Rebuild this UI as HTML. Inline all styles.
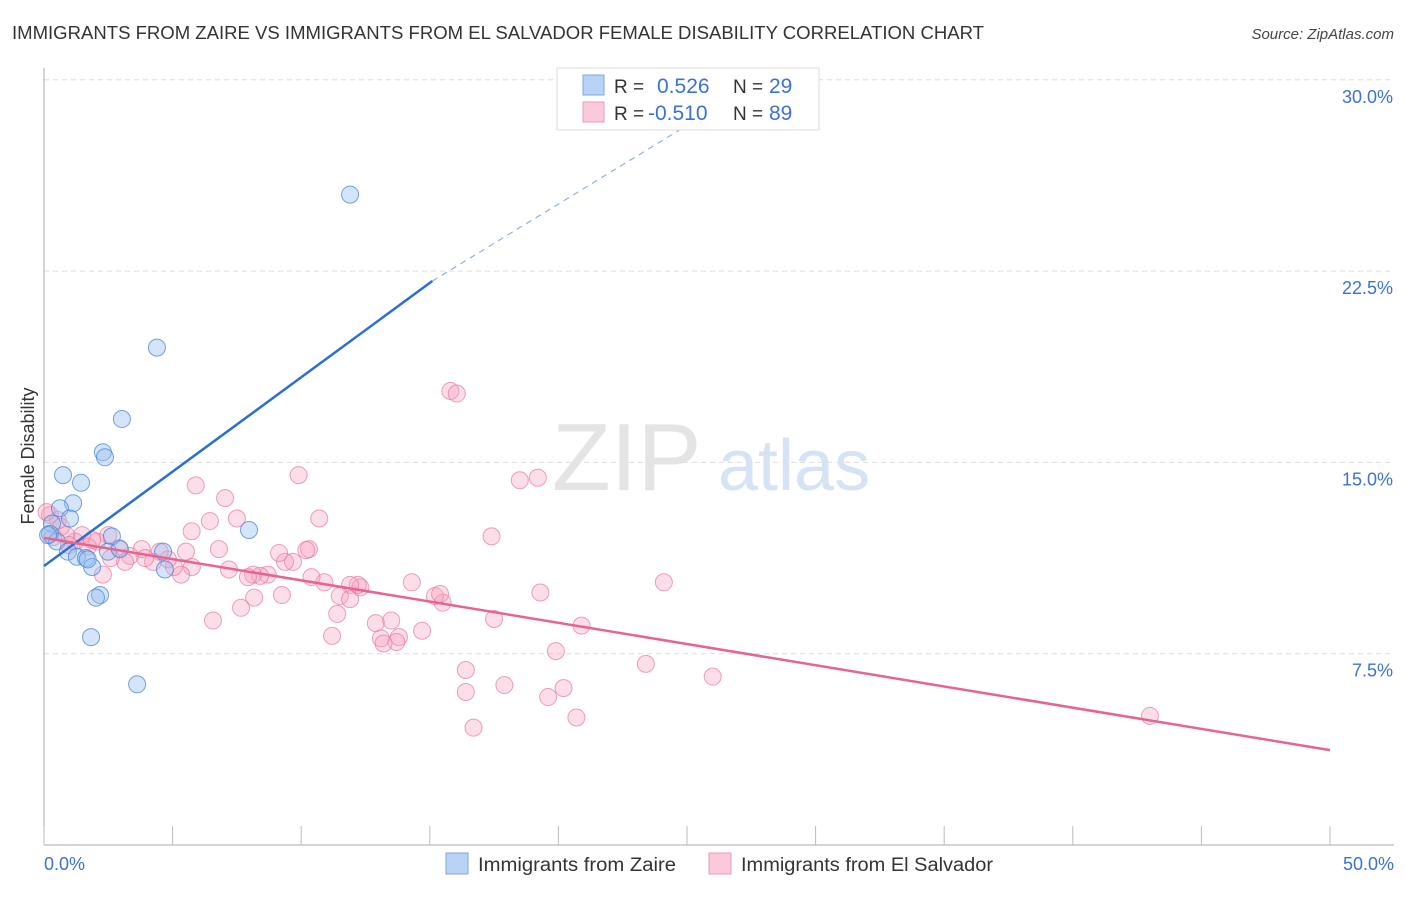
<!DOCTYPE html>
<html><head><meta charset="utf-8"><style>
body{margin:0;background:#fff;font-family:"Liberation Sans",sans-serif;}
svg text{font-family:"Liberation Sans",sans-serif;}
</style></head><body>
<svg id="chart" width="1406" height="892" viewBox="0 0 1406 892" xmlns="http://www.w3.org/2000/svg">
<text x="12" y="39" font-size="18" fill="#333" textLength="972" lengthAdjust="spacingAndGlyphs">IMMIGRANTS FROM ZAIRE VS IMMIGRANTS FROM EL SALVADOR FEMALE DISABILITY CORRELATION CHART</text>
<text x="1394" y="39" font-size="15" font-style="italic" fill="#444" text-anchor="end">Source: ZipAtlas.com</text>
<g id="grid"></g>
<text x="552" y="490" font-size="96" font-family="Liberation Serif" fill="#e4e4e4">ZIP</text>
<text x="718" y="490" font-size="72" fill="#d6e3f5">atlas</text>
<g id="axes"></g>
<g id="pts"></g>
<g id="lines"></g>
<text transform="translate(34,456) rotate(-90)" font-size="18" fill="#333" text-anchor="middle">Female Disability</text>
<g>
<rect x="557" y="68" width="262" height="62" fill="#fff" stroke="#ddd"/>
<rect x="583" y="75" width="21" height="20" fill="#b8d3f5" stroke="#7aa8e6"/>
<rect x="583" y="102" width="21" height="20" fill="#fbc9d8" stroke="#ee9ab5"/>
<text x="614" y="93" font-size="19" fill="#333">R = </text><text x="657" y="93" font-size="21" fill="#3b72d6">0.526</text>
<text x="733" y="93" font-size="19" fill="#333">N = </text><text x="769" y="93" font-size="21" fill="#3b72d6">29</text>
<text x="614" y="120" font-size="19" fill="#333">R = </text><text x="648" y="120" font-size="21" fill="#3b72d6">-0.510</text>
<text x="733" y="120" font-size="19" fill="#333">N = </text><text x="769" y="120" font-size="21" fill="#3b72d6">89</text>
</g>
<g>
<rect x="446" y="853" width="22" height="21" fill="#b8d3f5" stroke="#7aa8e6"/>
<text x="478" y="871" font-size="19" fill="#333" textLength="198" lengthAdjust="spacingAndGlyphs">Immigrants from Zaire</text></g>
<g>
<rect x="709" y="853" width="22" height="21" fill="#fbc9d8" stroke="#ee9ab5"/>
<text x="741" y="871" font-size="19" fill="#333" textLength="252" lengthAdjust="spacingAndGlyphs">Immigrants from El Salvador</text></g>
</svg>
<script>
const zaireX=[11.9,4.39,3.03,2.29,2.37,0.74,1.44,1.13,0.62,1.01,0.31,7.97,2.64,0.23,0.5,0.93,1.28,1.63,2.49,2.95,4.63,4.7,1.87,2.18,2.02,1.83,3.62,0.16,1.7];
const zaireY=[25.5,19.5,16.7,15.4,15.2,14.5,14.2,13.4,13.2,12.8,12.6,12.35,12.1,12.2,11.9,11.5,11.3,11.25,11.5,11.6,11.5,10.8,10.9,9.8,9.7,8.15,6.3,12.15,11.2];
const salvX=[43.0,26.0,24.1,23.4,20.9,19.9,20.2,19.6,20.7,19.3,18.5,19.2,17.4,17.5,17.9,16.4,16.4,16.7,15.8,16.05,15.5,15.2,15.4,14.3,14.7,13.8,13.5,12.9,13.1,13.7,13.2,12.3,12.2,11.9,11.5,11.9,11.4,11.2,10.9,10.4,10.7,9.9,10.3,10.2,9.68,9.37,9.14,9.25,8.7,8.4,8.13,7.93,7.66,8.17,7.19,7.5,7.04,6.8,6.45,6.57,5.9,5.74,5.75,5.52,5.33,5.05,4.82,4.5,4.24,3.8,3.93,3.34,3.15,2.92,2.6,2.29,2.06,2.5,1.48,1.71,1.2,0.86,0.54,0.23,0.1,0.66,0.97,0.35,1.87];
const salvY=[5.06,6.6,10.3,7.1,8.6,7.6,6.15,5.8,5.0,9.9,14.3,14.4,12.1,8.86,6.27,6.86,6.0,4.6,17.8,17.7,9.5,9.76,9.84,10.3,8.4,8.15,8.8,8.7,8.1,7.96,7.9,10.1,10.2,10.2,9.76,9.64,9.06,8.2,10.3,10.5,12.8,14.5,11.6,11.56,11.1,11.1,11.45,9.8,10.6,10.55,10.6,10.5,9.3,9.7,10.8,12.8,13.6,11.6,12.7,8.8,14.1,12.3,10.9,11.5,10.6,10.9,11.2,11.5,11.1,11.6,11.25,11.33,11.1,11.64,11.25,10.6,11.9,12.15,12.15,11.7,11.9,12.15,12.74,12.94,13.05,12.47,11.76,12.07,11.96];
const zaireLine=[0,10.94,15.1,22.11,30,27.9];
const salvLine=[0,12.04,50,3.72];
const yTicks=[7.5,15,22.5,30];
const yTickLabels=["7.5%","15.0%","22.5%","30.0%"];
const xTicks=[0,5,10,15,20,25,30,35,40,45,50];
const NS="http://www.w3.org/2000/svg";
const sx=v=>44+v/50*1286;
const sy=v=>845-v/7.5*191.3;
function mk(tag,attrs,parent){const e=document.createElementNS(NS,tag);for(const k in attrs)e.setAttribute(k,attrs[k]);document.getElementById(parent).appendChild(e);return e;}
yTicks.forEach((t,i)=>{
 const g=mk('line',{x1:44,x2:1394,y1:sy(t),y2:sy(t),stroke:'#ddd','stroke-dasharray':'5,4'},'grid');
 
 
 const l=mk('text',{x:1393,y:sy(t)+23,'font-size':18,fill:'#3b72d6','text-anchor':'end'},'grid');
 l.textContent=yTickLabels[i];
 
 
});
const ax=mk('line',{x1:44,x2:44,y1:68,y2:845,stroke:'#aaa'},'axes');


const bx=mk('line',{x1:44,x2:1394,y1:845,y2:845,stroke:'#aaa'},'axes');


xTicks.forEach(t=>{
 const tk=mk('line',{x1:sx(t),x2:sx(t),y1:826,y2:845,stroke:'#bbb'},'axes');
 
 
});
const x0=mk('text',{x:44,y:870,'font-size':18,fill:'#3b72d6'},'axes');x0.textContent='0.0%';


const x1=mk('text',{x:1394,y:870,'font-size':18,fill:'#3b72d6','text-anchor':'end'},'axes');x1.textContent='50.0%';


salvX.forEach((v,i)=>{
 const c=mk('circle',{cx:sx(v),cy:sy(salvY[i]),r:8.5,fill:'rgba(246,160,190,0.35)',stroke:'rgba(232,120,160,0.7)','stroke-width':1},'pts');
 
 
});
zaireX.forEach((v,i)=>{
 const c=mk('circle',{cx:sx(v),cy:sy(zaireY[i]),r:8.5,fill:'rgba(150,190,240,0.4)',stroke:'rgba(70,130,220,0.75)','stroke-width':1},'pts');
 
 
});
const zl=mk('line',{x1:sx(zaireLine[0]),y1:sy(zaireLine[1]),x2:sx(zaireLine[2]),y2:sy(zaireLine[3]),stroke:'#2a6fd6','stroke-width':2.5},'lines');


const zd=mk('line',{x1:sx(zaireLine[2]),y1:sy(zaireLine[3]),x2:sx(zaireLine[5]),y2:sy(zaireLine[4]),stroke:'#8fb2e0','stroke-width':1.2,'stroke-dasharray':'6,5'},'lines');


const sl=mk('line',{x1:sx(salvLine[0]),y1:sy(salvLine[1]),x2:sx(salvLine[2]),y2:sy(salvLine[3]),stroke:'#e8638f','stroke-width':2.5},'lines');


</script>
</body></html>
